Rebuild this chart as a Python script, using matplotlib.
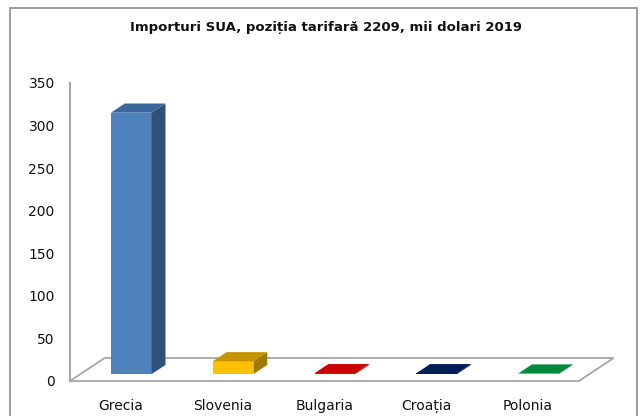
import matplotlib.pyplot as plt
from matplotlib.patches import Polygon, Rectangle

tari = ["Grecia", "Slovenia", "Bulgaria", "Croația", "Polonia"]
valori = [307, 15, 1, 1, 0.5]
y_ticks = [0, 50, 100, 150, 200, 250, 300, 350]
titlu = "Importuri SUA, poziția tarifară 2209, mii dolari 2019"

# culori: fata, sus, lateral
fete = ["#4F81BD", "#FFC000", "#FF0000", "#002060", "#00B050"]
sus = ["#3B659B", "#C49400", "#CC0000", "#001D58", "#008A3E"]
lateral = ["#2F5078", "#A07A00", "#A00000", "#001645", "#006E32"]

# adancimea podelei (unitati de date)
DX, DY = 0.34, 27.0
LAT = 0.2  # jumatate din latimea barei

fig = plt.figure(figsize=(6.4, 4.16), dpi=100)
fig.patches.append(Rectangle((10 / 640, -0.1), 627 / 640, 1.1 - 8 / 416,
                             transform=fig.transFigure, fill=False,
                             edgecolor="#8C8C8C", lw=1.2))
fig.text(0.51, 1 - 28 / 416, titlu, ha="center", va="center",
         fontsize=9.5, fontweight="bold", color="#111111")

ax = fig.add_axes([70 / 640, 35 / 416, 509 / 640, 298 / 416])
ax.set_xlim(-0.5, 4.5)
ax.set_ylim(0, 350)

# podeaua
x0, x1 = -0.5, 4.5
ax.add_patch(Polygon([(x0, 0), (x1, 0), (x1 + DX, DY), (x0 + DX, DY)],
                     closed=True, facecolor="white", edgecolor="#A6A6A6",
                     lw=1.3, clip_on=False, zorder=1))

for i, v in enumerate(valori):
    bx = i - LAT + 0.3 * DX
    by = 0.3 * DY
    w = 2 * LAT
    ddx, ddy = 0.4 * DX, 0.4 * DY
    h = max(v, 0.6)
    ax.add_patch(Polygon([(bx, by), (bx + w, by), (bx + w, by + h), (bx, by + h)],
                         facecolor=fete[i], edgecolor="none", clip_on=False, zorder=3))
    ax.add_patch(Polygon([(bx, by + h), (bx + w, by + h),
                          (bx + w + ddx, by + h + ddy), (bx + ddx, by + h + ddy)],
                         facecolor=sus[i], edgecolor="none", clip_on=False, zorder=3))
    ax.add_patch(Polygon([(bx + w, by), (bx + w + ddx, by + ddy),
                          (bx + w + ddx, by + h + ddy), (bx + w, by + h)],
                         facecolor=lateral[i], edgecolor="none", clip_on=False, zorder=3))

ax.set_yticks(y_ticks)
ax.set_xticks(range(len(tari)))
ax.set_xticklabels(tari)
ax.tick_params(axis="both", length=0, labelsize=10, colors="#111111")
ax.tick_params(axis="y", pad=11)
ax.tick_params(axis="x", pad=13)
for s in ["top", "right", "bottom"]:
    ax.spines[s].set_visible(False)
ax.spines["left"].set_color("#A6A6A6")
ax.spines["left"].set_linewidth(1.5)
ax.patch.set_alpha(0)

fig.savefig("out.png", dpi=100)
